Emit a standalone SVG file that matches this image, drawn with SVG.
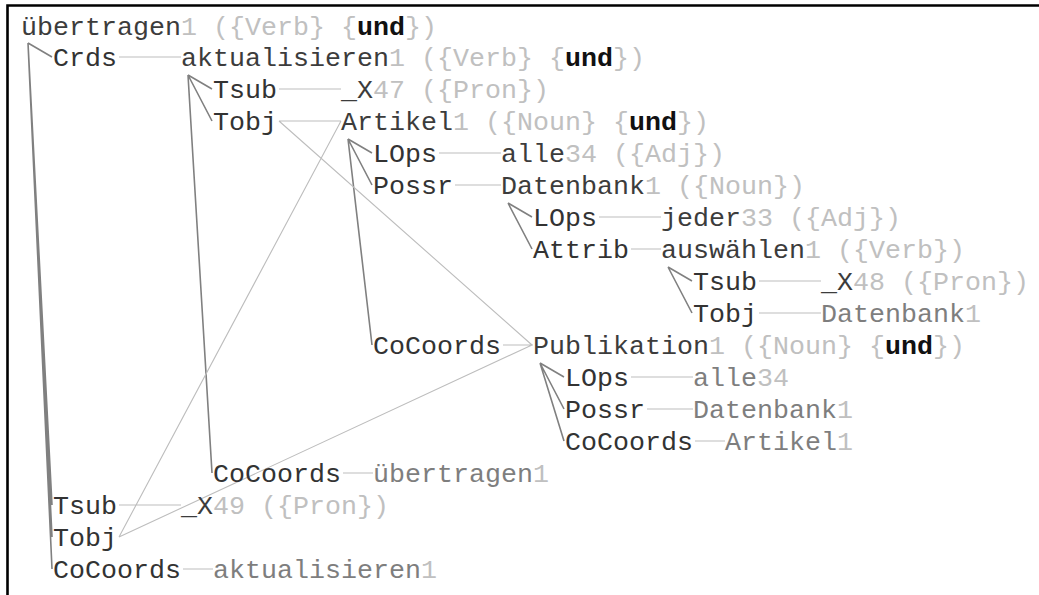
<svg xmlns="http://www.w3.org/2000/svg" width="1039" height="595" viewBox="0 0 1039 595">
  <style>
    text { font-family: "Liberation Mono", "Courier New", monospace; font-size: 26.67px; white-space: pre; }
    .rel { fill: #333333; }
    .w { fill: #3c3c3c; }
    .ref { fill: #7e7e7e; }
    .dim { fill: #c0c0c0; }
    .b { fill: #111111; font-weight: bold; }
    .edge { stroke: #808080; stroke-width: 1.6; fill: none; }
    .link { stroke: #bdbdbd; stroke-width: 1.1; fill: none; }
    .frame { stroke: #000000; stroke-width: 2.6; fill: none; }
  </style>
  <rect width="1039" height="595" fill="#ffffff"/>
  <!-- frame: top and left rules -->
  <path class="frame" d="M7.5 595 V5.5 H1039"/>

  <!-- connectors -->
  <g id="connectors">
    <!-- tree edges from each head -->
    <path class="edge" d="M28 43 L52 57 M28 43 L52 505 M28 43 L52 537 M28 43 L52 569"/>
    <path class="edge" d="M188 75 L212 89 M188 75 L212 121 M188 75 L212 473"/>
    <path class="edge" d="M348 139 L372 153 M348 139 L372 185 M348 139 L372 345"/>
    <path class="edge" d="M508 203 L532 217 M508 203 L532 249"/>
    <path class="edge" d="M668 267 L692 281 M668 267 L692 313"/>
    <path class="edge" d="M540 363 L564 377 M540 363 L564 409 M540 363 L564 441"/>
    <!-- relation to dependent links -->
    <path class="link" d="M119 57 H181 M279 89 H341 M279 121 H341 M279 121 L532 345 M439 153 H501 M455 185 H501 M599 217 H661 M631 249 H661 M759 281 H821 M759 313 H821 M503 345 H533 M631 377 H693 M647 409 H693 M695 441 H725 M343 473 H373 M119 505 H181 M119 537 L341 121 M119 537 L532 345 M183 569 H213"/>
  </g>

  <g id="n-uebertragen"><text x="21" y="35"><tspan class="w">übertragen</tspan><tspan class="dim">1 ({Verb} {</tspan><tspan class="b">und</tspan><tspan class="dim">})</tspan></text></g>
  <g id="n-aktualisieren"><text x="53" y="66" class="rel">Crds</text><text x="181" y="66"><tspan class="w">aktualisieren</tspan><tspan class="dim">1 ({Verb} {</tspan><tspan class="b">und</tspan><tspan class="dim">})</tspan></text></g>
  <g id="n-x47"><text x="213" y="98" class="rel">Tsub</text><text x="341" y="98"><tspan class="w">_X</tspan><tspan class="dim">47 ({Pron})</tspan></text></g>
  <g id="n-artikel"><text x="213" y="130" class="rel">Tobj</text><text x="341" y="130"><tspan class="w">Artikel</tspan><tspan class="dim">1 ({Noun} {</tspan><tspan class="b">und</tspan><tspan class="dim">})</tspan></text></g>
  <g id="n-alle"><text x="373" y="162" class="rel">LOps</text><text x="501" y="162"><tspan class="w">alle</tspan><tspan class="dim">34 ({Adj})</tspan></text></g>
  <g id="n-datenbank"><text x="373" y="194" class="rel">Possr</text><text x="501" y="194"><tspan class="w">Datenbank</tspan><tspan class="dim">1 ({Noun})</tspan></text></g>
  <g id="n-jeder"><text x="533" y="226" class="rel">LOps</text><text x="661" y="226"><tspan class="w">jeder</tspan><tspan class="dim">33 ({Adj})</tspan></text></g>
  <g id="n-auswaehlen"><text x="533" y="258" class="rel">Attrib</text><text x="661" y="258"><tspan class="w">auswählen</tspan><tspan class="dim">1 ({Verb})</tspan></text></g>
  <g id="n-x48"><text x="693" y="290" class="rel">Tsub</text><text x="821" y="290"><tspan class="w">_X</tspan><tspan class="dim">48 ({Pron})</tspan></text></g>
  <g id="n-datenbank-ref1"><text x="693" y="322" class="rel">Tobj</text><text x="821" y="322"><tspan class="ref">Datenbank</tspan><tspan class="dim">1</tspan></text></g>
  <g id="n-publikation"><text x="373" y="354" class="rel">CoCoords</text><text x="533" y="354"><tspan class="w">Publikation</tspan><tspan class="dim">1 ({Noun} {</tspan><tspan class="b">und</tspan><tspan class="dim">})</tspan></text></g>
  <g id="n-alle-ref"><text x="565" y="386" class="rel">LOps</text><text x="693" y="386"><tspan class="ref">alle</tspan><tspan class="dim">34</tspan></text></g>
  <g id="n-datenbank-ref2"><text x="565" y="418" class="rel">Possr</text><text x="693" y="418"><tspan class="ref">Datenbank</tspan><tspan class="dim">1</tspan></text></g>
  <g id="n-artikel-ref"><text x="565" y="450" class="rel">CoCoords</text><text x="725" y="450"><tspan class="ref">Artikel</tspan><tspan class="dim">1</tspan></text></g>
  <g id="n-uebertragen-ref"><text x="213" y="482" class="rel">CoCoords</text><text x="373" y="482"><tspan class="ref">übertragen</tspan><tspan class="dim">1</tspan></text></g>
  <g id="n-x49"><text x="53" y="514" class="rel">Tsub</text><text x="181" y="514"><tspan class="w">_X</tspan><tspan class="dim">49 ({Pron})</tspan></text></g>
  <g id="n-tobj"><text x="53" y="546" class="rel">Tobj</text></g>
  <g id="n-aktualisieren-ref"><text x="53" y="578" class="rel">CoCoords</text><text x="213" y="578"><tspan class="ref">aktualisieren</tspan><tspan class="dim">1</tspan></text></g>
</svg>
